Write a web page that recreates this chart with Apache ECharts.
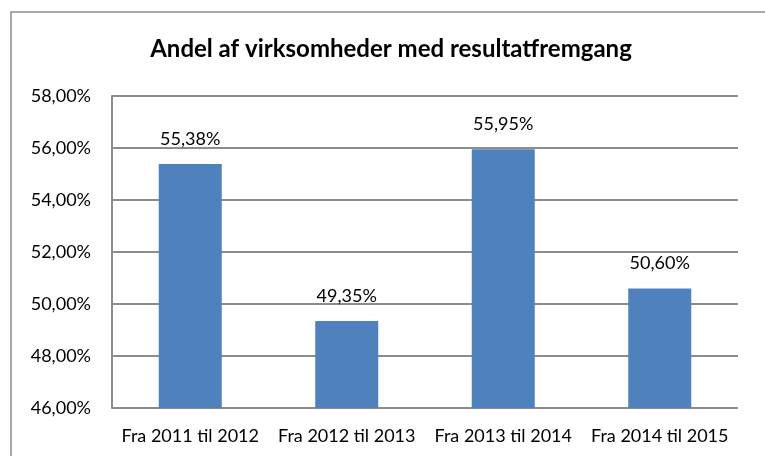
<!DOCTYPE html>
<html><head><meta charset="utf-8">
<script src="https://cdn.jsdelivr.net/npm/echarts@6/dist/echarts.min.js"></script>
<style>html,body{margin:0;padding:0;background:#fff}#c{width:765px;height:456px}</style>
</head><body><div id="c"></div>
<script>
const categories = ['Fra 2011 til 2012', 'Fra 2012 til 2013', 'Fra 2013 til 2014', 'Fra 2014 til 2015'];
const values = [55.38, 49.35, 55.95, 50.60];
const titleText = 'Andel af virksomheder med resultatfremgang';
const FONT = 'Lato';
const fmt = v => v.toFixed(2).replace('.', ',') + '%';
const chart = echarts.init(document.getElementById('c'));
chart.setOption({
  animation: false,
  graphic: [{type: 'rect', shape: {x: 11, y: 12, width: 800, height: 500}, style: {fill: 'none', stroke: '#8c8c8c', lineWidth: 1.5}, silent: true, z: -10}],
  title: {text: titleText, left: 386, textAlign: 'center', top: 32, textStyle: {fontFamily: FONT, fontWeight: 'bold', fontSize: 24, color: '#000'}},
  grid: {left: 112, right: 27, top: 96, bottom: 48},
  xAxis: {type: 'category', data: categories,
    axisLine: {show: false}, axisTick: {show: false},
    axisLabel: {fontFamily: FONT, fontSize: 18, color: '#000', margin: 19, interval: 0}},
  yAxis: {type: 'value', min: 46, max: 58, interval: 2,
    axisLine: {show: true, lineStyle: {color: '#8c8c8c', width: 2}}, axisTick: {show: false},
    splitLine: {lineStyle: {color: '#8c8c8c', width: 2}},
    axisLabel: {fontFamily: FONT, fontSize: 18, color: '#000', margin: 21, formatter: fmt}},
  series: [{type: 'bar', data: values, barWidth: 63, itemStyle: {color: '#4f81bd'},
    label: {show: true, position: 'top', distance: 16, fontFamily: FONT, fontSize: 18, color: '#000', formatter: p => fmt(p.value)}}]
});
</script></body></html>
